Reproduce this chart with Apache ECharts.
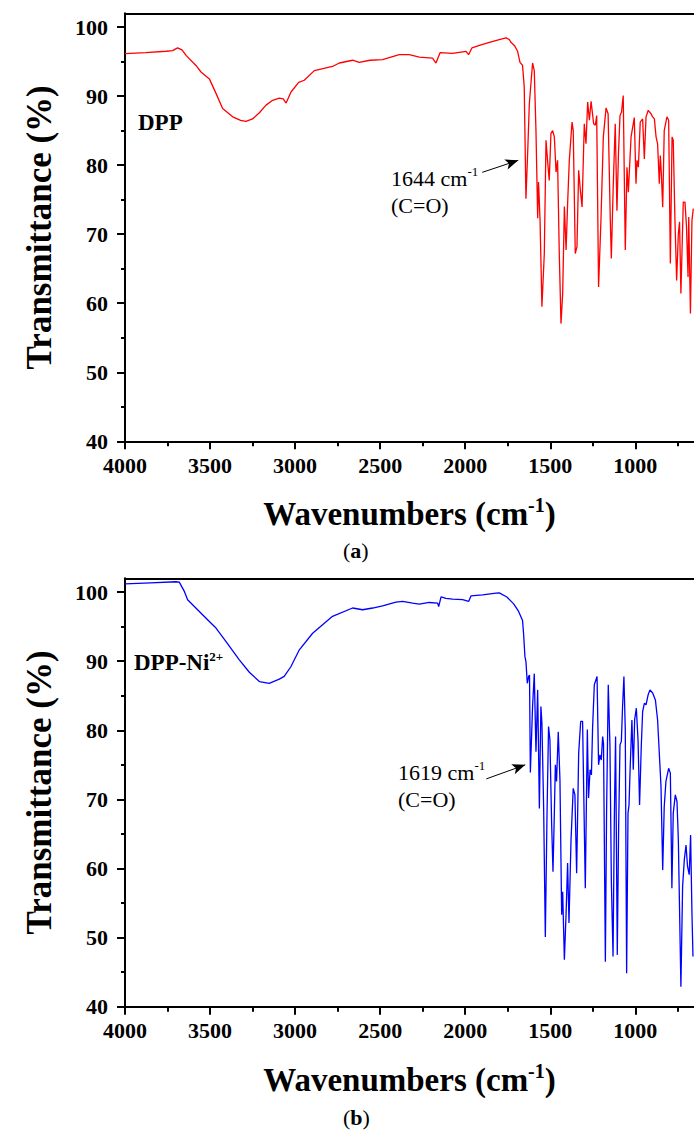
<!DOCTYPE html>
<html><head><meta charset="utf-8">
<script src="https://cdn.jsdelivr.net/npm/echarts@6/dist/echarts.min.js"></script>
<style>html,body{margin:0;padding:0;background:#fff}#c{width:694px;height:1136px}</style>
</head><body><div id="c"></div>
<script>
// ---- DATA ----
const dppWn = [4000,3880,3759,3720,3691,3665,3641,3583,3553,3504,3465,3426,3367,3320,3289,3250,3210,3171,3132,3093,3070,3053,3024,2979,2946,2887,2780,2740,2662,2623,2560,2486,2388,2329,2270,2192,2172,2148,2074,1995,1980,1960,1917,1858,1800,1760,1741,1731,1711,1692,1678,1663,1653,1643,1633,1623,1604,1594,1584,1574,1569,1560,1549,1535,1525,1516,1506,1496,1486,1476,1466,1457,1447,1437,1427,1417,1407,1398,1388,1372,1365,1353,1343,1333,1323,1313,1300,1290,1280,1270,1260,1245,1235,1227,1216,1202,1188,1172,1160,1147,1141,1130,1118,1108,1099,1090,1081,1071,1059,1049,1041,1025,1006,996,990,982,971,957,947,937,924,908,898,888,878,869,859,853,847,839,830,814,804,794,784,777,767,757,747,740,732,718,708,699,690,686,676,667,659];
const dppT = [96.15,96.3,96.5,96.6,97.0,96.7,95.9,94.45,93.5,92.5,90.4,88.2,87.0,86.5,86.35,86.7,87.6,88.7,89.4,89.7,89.6,89.0,90.6,92.0,92.3,93.7,94.3,94.8,95.2,94.9,95.2,95.3,96.0,96.0,95.65,95.5,94.8,96.3,96.2,96.5,96.0,97.0,97.35,97.8,98.2,98.45,98.2,97.8,97.35,96.5,94.9,94.45,91.3,75.15,81.7,88.9,94.8,93.7,85.0,72.3,77.55,72.0,59.5,67.2,83.6,80.7,77.8,84.6,85.0,84.1,79.0,80.7,67.2,57.05,61.4,74.0,67.7,74.4,80.7,86.25,85.05,67.2,68.2,79.25,76.35,73.95,86.0,83.1,89.15,86.5,89.25,86.0,85.8,87.2,62.35,72.0,84.1,88.3,87.45,72.0,66.5,76.8,86.0,73.4,81.7,87.2,87.7,90.1,67.7,79.7,76.1,84.1,86.9,77.3,80.7,79.7,86.25,86.7,80.9,87.0,87.95,87.45,87.0,86.7,84.1,83.1,77.3,81.4,78.8,73.9,85.0,87.0,86.5,65.75,84.1,83.6,72.0,63.3,70.1,71.8,61.4,74.65,74.65,71.0,63.8,72.5,58.5,72.0,73.7];

const niWn = [4000,3850,3700,3681,3651,3632,3563,3504,3465,3406,3328,3269,3210,3152,3093,3064,3025,2975,2897,2780,2662,2603,2544,2486,2407,2368,2309,2270,2211,2162,2156,2142,2113,2074,2015,1980,1966,1898,1819,1800,1755,1715,1686,1663,1657,1649,1643,1635,1627,1622,1617,1604,1594,1584,1574,1564,1555,1549,1539,1529,1519,1510,1502,1492,1484,1476,1470,1463,1453,1443,1433,1427,1417,1407,1398,1390,1378,1365,1355,1345,1333,1321,1310,1294,1282,1275,1266,1258,1251,1241,1225,1216,1208,1200,1192,1187,1176,1169,1159,1149,1141,1131,1123,1116,1106,1098,1090,1082,1075,1067,1059,1051,1043,1037,1030,1020,1012,1004,994,984,975,965,957,947,937,925,914,898,882,869,859,849,839,830,820,804,794,785,777,765,755,747,732,722,712,702,693,683,675,667,661];
const niT = [101.2,101.35,101.5,101.45,100.1,98.9,97.2,95.75,94.8,92.85,90.2,88.4,87.05,86.8,87.4,87.8,89.2,91.65,94.05,96.5,97.7,97.45,97.7,98.0,98.55,98.65,98.4,98.25,98.5,98.4,97.9,99.3,99.1,99.0,98.9,98.65,99.45,99.6,99.85,99.9,99.3,98.3,97.2,95.9,94.05,90.7,89.95,86.8,87.8,88.0,73.9,83.45,88.2,76.9,85.85,68.7,83.45,81.0,68.95,50.1,68.0,80.55,78.6,66.55,59.55,68.0,75.0,72.6,79.8,72.8,53.3,56.65,46.8,53.5,60.8,52.1,64.1,71.6,70.65,59.3,76.7,81.3,81.3,57.15,80.1,70.2,74.3,73.55,80.5,86.6,87.8,75.0,76.45,75.7,79.1,78.1,46.5,68.0,86.6,77.65,58.35,47.25,68.0,79.1,47.5,66.05,77.9,78.4,83.45,87.8,80.1,44.85,68.0,69.2,74.75,81.5,74.3,81.5,83.2,78.6,69.2,77.65,82.7,83.9,83.7,85.1,85.85,85.4,84.4,81.5,76.7,71.85,59.8,68.95,72.6,74.5,73.8,57.15,68.0,70.65,69.7,64.1,42.9,57.4,61.25,63.4,60.3,59.1,64.85,53.5,47.25];

const xMajorTicks = [4000,3500,3000,2500,2000,1500,1000];
const xMinorTicks = [3750,3250,2750,2250,1750,1250,750];
const yMajorTicks = [40,50,60,70,80,90,100];
const yMinorTicks = [45,55,65,75,85,95];
const panelLabels = ['DPP', 'DPP-Ni', '2+'];
const peakLabels = ['1644 cm', '1619 cm', '-1', '(C=O)'];
const arrowDpp = [[1900, 78.96], [1688, 80.7]];
const arrowNi = [[1876, 72.97], [1647, 75.0]];

// ---- CHART ----
const X_MIN = 655, X_MAX = 4000, Y_MIN = 40, Y_MAX = 102;
const SERIF = '"Times New Roman","Liberation Serif",serif';
const BLACK = '#000';

function zip(a, b) { return a.map((v, i) => [v, b[i]]); }
const plain = v => String(v);

const grids = [
  { left: 125, top: 13.3, width: 569, height: 428 },
  { left: 125, top: 578.3, width: 569, height: 428.4 }
];

const xAxes = [], yAxes = [];
grids.forEach((g, gi) => {
  const common = { type: 'value', gridIndex: gi, min: X_MIN, max: X_MAX, inverse: true, splitLine: { show: false } };
  xAxes.push(Object.assign({}, common, {
    position: 'bottom',
    axisLine: { onZero: false, lineStyle: { color: BLACK, width: 2 } },
    axisTick: { customValues: xMajorTicks, length: 8, lineStyle: { color: BLACK, width: 2 } },
    axisLabel: { customValues: xMajorTicks, formatter: plain, margin: 13, color: BLACK, fontFamily: SERIF, fontWeight: 'bold', fontSize: 22 },
    name: '{t|Wavenumbers (cm}{s|-1}{t|)}',
    nameLocation: 'middle', nameGap: 54,
    nameTextStyle: { rich: {
      t: { fontFamily: SERIF, fontWeight: 'bold', fontSize: 33, lineHeight: 38, color: BLACK },
      s: { fontFamily: SERIF, fontWeight: 'bold', fontSize: 20, lineHeight: 19, verticalAlign: 'top', color: BLACK }
    } }
  }));
  xAxes.push(Object.assign({}, common, {
    position: 'bottom',
    axisLine: { show: false, onZero: false },
    axisTick: { customValues: xMinorTicks, length: 5, lineStyle: { color: BLACK, width: 2 } },
    axisLabel: { show: false }
  }));
  xAxes.push(Object.assign({}, common, {
    position: 'top',
    axisLine: { show: true, onZero: false, lineStyle: { color: BLACK, width: 2 } },
    axisTick: { show: false }, axisLabel: { show: false }
  }));
  const ycommon = { type: 'value', gridIndex: gi, min: Y_MIN, max: Y_MAX, splitLine: { show: false } };
  yAxes.push(Object.assign({}, ycommon, {
    position: 'left',
    axisLine: { show: true, onZero: false, lineStyle: { color: BLACK, width: 2 } },
    axisTick: { show: true, customValues: yMajorTicks, length: 8, lineStyle: { color: BLACK, width: 2 } },
    axisLabel: { customValues: yMajorTicks, formatter: plain, margin: 17, color: BLACK, fontFamily: SERIF, fontWeight: 'bold', fontSize: 22 },
    name: 'Transmittance (%)', nameLocation: 'middle', nameRotate: 90, nameGap: 68,
    nameTextStyle: { fontFamily: SERIF, fontWeight: 'bold', fontSize: 35, color: BLACK }
  }));
  yAxes.push(Object.assign({}, ycommon, {
    position: 'left',
    axisLine: { show: false, onZero: false },
    axisTick: { show: true, customValues: yMinorTicks, length: 4, lineStyle: { color: BLACK, width: 2 } },
    axisLabel: { show: false }
  }));
});

function arrowMark(a) {
  return {
    silent: true, animation: false, symbol: ['none', 'arrow'], symbolSize: [8, 13],
    itemStyle: { color: BLACK },
    lineStyle: { color: BLACK, width: 1, type: 'solid' }, label: { show: false },
    emphasis: { disabled: true },
    data: [[{ coord: a[0] }, { coord: a[1] }]]
  };
}

const n22 = { fontFamily: SERIF, fontSize: 22, lineHeight: 26, fill: BLACK, color: BLACK };
function textEl(x, y, text, rich) {
  return { type: 'text', x: x, y: y, silent: true,
    style: { text: text, rich: rich, align: 'left', verticalAlign: 'middle', textAlign: 'left', textVerticalAlign: 'middle', fill: BLACK } };
}

const graphic = [
  textEl(138, 122.5, '{b|' + panelLabels[0] + '}', { b: Object.assign({}, n22, { fontWeight: 'bold', fontSize: 23 }) }),
  textEl(134, 662.5, '{b|' + panelLabels[1] + '}{s|' + panelLabels[2] + '}', {
    b: Object.assign({}, n22, { fontWeight: 'bold', fontSize: 23 }),
    s: { fontFamily: SERIF, fontWeight: 'bold', fontSize: 13, lineHeight: 9, verticalAlign: 'top', fill: BLACK, color: BLACK } }),
  textEl(391, 178, '{n|' + peakLabels[0] + '}{s|' + peakLabels[2] + '}', {
    n: n22, s: { fontFamily: SERIF, fontSize: 13, lineHeight: 19, verticalAlign: 'top', fill: BLACK, color: BLACK } }),
  textEl(391, 205, '{n|' + peakLabels[3] + '}', { n: n22 }),
  textEl(398, 772, '{n|' + peakLabels[1] + '}{s|' + peakLabels[2] + '}', {
    n: n22, s: { fontFamily: SERIF, fontSize: 13, lineHeight: 19, verticalAlign: 'top', fill: BLACK, color: BLACK } }),
  textEl(398, 799, '{n|' + peakLabels[3] + '}', { n: n22 }),
  textEl(343, 550, '{n|(}{b|a}{n|)}', { n: n22, b: Object.assign({}, n22, { fontWeight: 'bold' }) }),
  textEl(343, 1117, '{n|(}{b|b}{n|)}', { n: n22, b: Object.assign({}, n22, { fontWeight: 'bold' }) })
];

const chart = echarts.init(document.getElementById('c'), null, { renderer: 'svg', width: 694, height: 1136 });
chart.setOption({
  animation: false,
  backgroundColor: '#fff',
  grid: grids,
  xAxis: xAxes,
  yAxis: yAxes,
  series: [
    { type: 'line', xAxisIndex: 0, yAxisIndex: 0, data: zip(dppWn, dppT), showSymbol: false, silent: true,
      color: '#ff0000', lineStyle: { color: '#ff0000', width: 1.3 }, markLine: arrowMark(arrowDpp) },
    { type: 'line', xAxisIndex: 3, yAxisIndex: 2, data: zip(niWn, niT), showSymbol: false, silent: true,
      color: '#0000ff', lineStyle: { color: '#0000ff', width: 1.3 }, markLine: arrowMark(arrowNi) }
  ],
  graphic: graphic
});
</script></body></html>
